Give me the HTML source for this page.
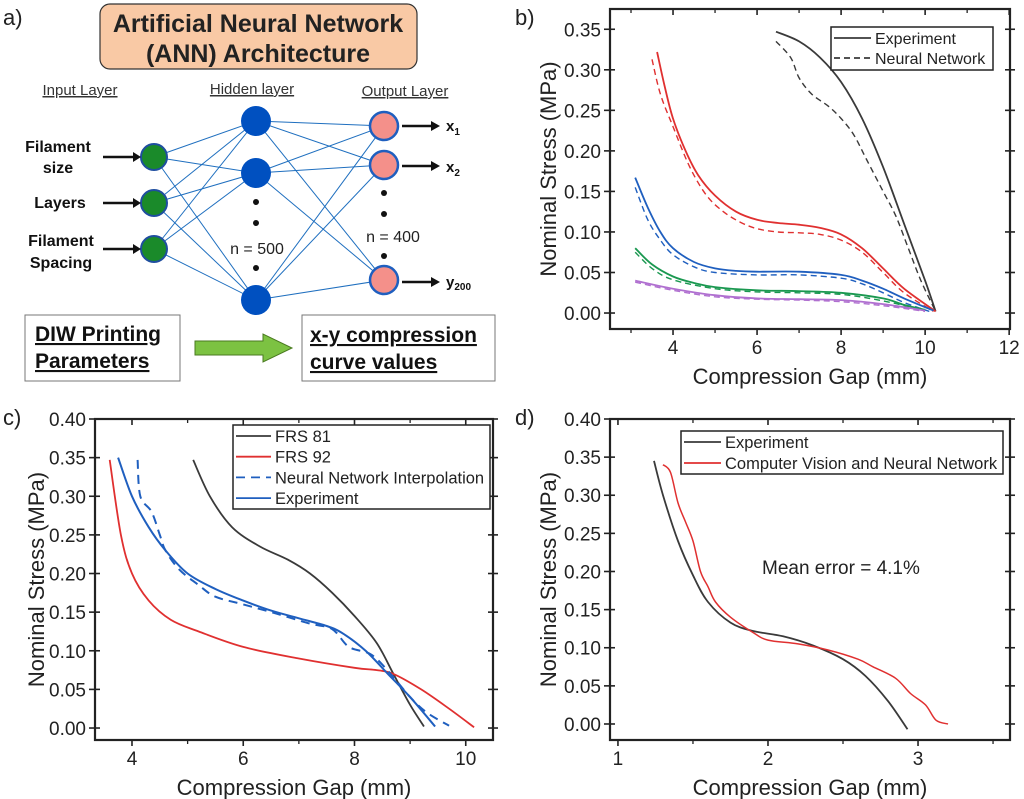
<!DOCTYPE html>
<html><head><meta charset="utf-8"><style>
html,body{margin:0;padding:0;background:#fff;}
svg{display:block;font-family:"Liberation Sans",Arial,sans-serif;}
</style></head><body>
<svg id="fig" width="1024" height="799" viewBox="0 0 1024 799">
<!-- Panel a -->
<g>
<text x="3" y="25" font-size="22" fill="#222">a)</text>
<rect x="100" y="4" width="317" height="65" rx="10" fill="#f9c9a5" stroke="#333" stroke-width="1.2"/>
<text x="258" y="32" font-size="25" font-weight="bold" text-anchor="middle" fill="#222">Artificial Neural Network</text>
<text x="258" y="62" font-size="25" font-weight="bold" text-anchor="middle" fill="#222">(ANN) Architecture</text>
<text x="80" y="95" font-size="15" text-anchor="middle" text-decoration="underline" fill="#333">Input Layer</text>
<text x="252" y="94" font-size="15" text-anchor="middle" text-decoration="underline" fill="#333">Hidden layer</text>
<text x="405" y="96" font-size="15" text-anchor="middle" text-decoration="underline" fill="#333">Output Layer</text>
<g id="conns" stroke="#1f6fbf" stroke-width="1"></g>
<g id="nodes"></g>
<g fill="#111">
<circle cx="256" cy="202" r="3"/><circle cx="256" cy="223" r="3"/><circle cx="256" cy="268" r="3"/>
<circle cx="384" cy="193" r="3"/><circle cx="384" cy="214" r="3"/><circle cx="384" cy="256" r="3"/>
</g>
<text x="257" y="254" font-size="16" text-anchor="middle" fill="#222">n = 500</text>
<text x="393" y="242" font-size="16" text-anchor="middle" fill="#222">n = 400</text>
<g font-size="16" font-weight="bold" fill="#111" text-anchor="middle">
<text x="58" y="152">Filament</text>
<text x="58" y="173">size</text>
<text x="60" y="208">Layers</text>
<text x="61" y="246">Filament</text>
<text x="61" y="268">Spacing</text>
</g>
<g stroke="#111" stroke-width="2.5">
<line x1="103" y1="157" x2="134" y2="157"/><line x1="103" y1="203" x2="134" y2="203"/><line x1="103" y1="249" x2="134" y2="249"/>
<line x1="402" y1="126" x2="432" y2="126"/><line x1="402" y1="166" x2="432" y2="166"/><line x1="402" y1="282" x2="432" y2="282"/>
</g>
<g fill="#111">
<polygon points="133,152 141,157 133,162"/><polygon points="133,198 141,203 133,208"/><polygon points="133,244 141,249 133,254"/>
<polygon points="431,121 440,126 431,131"/><polygon points="431,161 440,166 431,171"/><polygon points="431,277 440,282 431,287"/>
</g>
<g font-size="15" font-weight="bold" fill="#111">
<text x="446" y="131">x<tspan font-size="10" dy="4">1</tspan></text>
<text x="446" y="172">x<tspan font-size="10" dy="4">2</tspan></text>
<text x="446" y="287">y<tspan font-size="10" dy="3">200</tspan></text>
</g>
<rect x="25" y="315" width="155" height="66" fill="#fff" stroke="#777" stroke-width="1"/>
<g font-size="21" font-weight="bold" fill="#111" text-decoration="underline">
<text x="35" y="341">DIW Printing</text>
<text x="35" y="368">Parameters</text>
</g>
<polygon points="195,341 263,341 263,334 292,348 263,362 263,355 195,355" fill="#7cc242" stroke="#4a7a20" stroke-width="1"/>
<rect x="302" y="315" width="193" height="66" fill="#fff" stroke="#777" stroke-width="1"/>
<g font-size="21" font-weight="bold" fill="#111" text-decoration="underline">
<text x="310" y="342">x-y compression</text>
<text x="310" y="369">curve values</text>
</g>
</g>
<g id="charts"></g>
</svg>
<script>
// ---------- Panel b data ----------
const bExpBlackX=[6.45,7,7.5,8,8.5,9,9.5,10,10.25];
const bExpBlackY=[0.347,0.335,0.315,0.285,0.24,0.18,0.11,0.04,0.002];
const bNNBlackX=[6.45,6.8,7,7.3,7.7,8,8.3,8.6,9,9.3,9.6,9.9,10.25];
const bNNBlackY=[0.335,0.315,0.29,0.27,0.255,0.24,0.22,0.19,0.15,0.12,0.08,0.04,0.002];
const bExpRedX=[3.62,3.8,4,4.3,4.6,5,5.5,6,6.5,7,7.5,8,8.5,9,9.5,10.25];
const bExpRedY=[0.322,0.28,0.24,0.2,0.17,0.145,0.125,0.115,0.111,0.109,0.105,0.097,0.08,0.055,0.03,0.002];
const bNNRedX=[3.5,3.7,4,4.4,4.8,5.2,5.6,6,6.5,7,7.5,8,8.5,9,9.5,10.2];
const bNNRedY=[0.313,0.27,0.23,0.18,0.145,0.125,0.112,0.104,0.1,0.099,0.097,0.09,0.075,0.05,0.025,0.002];
const bExpBlueX=[3.1,3.4,3.7,4,4.5,5,5.5,6,7,8,8.5,9,9.5,10.2];
const bExpBlueY=[0.167,0.13,0.1,0.08,0.063,0.055,0.052,0.051,0.051,0.047,0.04,0.03,0.018,0.003];
const bNNBlueX=[3.1,3.4,3.7,4,4.5,5,6,7,8,8.5,9,9.5,10.1];
const bNNBlueY=[0.155,0.115,0.09,0.072,0.057,0.05,0.047,0.047,0.043,0.036,0.025,0.013,0.002];
const bExpGreenX=[3.1,3.5,4,4.5,5,6,7,8,9,9.5,10];
const bExpGreenY=[0.08,0.06,0.045,0.037,0.032,0.028,0.027,0.025,0.018,0.01,0.004];
const bNNGreenX=[3.1,3.5,4,5,6,7,8,9,10];
const bNNGreenY=[0.075,0.055,0.041,0.03,0.026,0.025,0.023,0.015,0.003];
const bExpPurpleX=[3.1,4,5,6,7,8,9,10];
const bExpPurpleY=[0.04,0.03,0.022,0.018,0.017,0.016,0.011,0.003];
const bNNPurpleX=[3.1,4,5,6,7,8,9,10];
const bNNPurpleY=[0.038,0.028,0.02,0.017,0.016,0.014,0.009,0.002];
const bXTicks=[4,6,8,10,12];
const bYTicks=[0,0.05,0.1,0.15,0.2,0.25,0.3,0.35];
// ---------- Panel c data ----------
const cFrs81X=[5.1,5.4,5.8,6.3,6.8,7.2,7.6,8,8.4,8.7,9,9.25];
const cFrs81Y=[0.347,0.3,0.26,0.235,0.218,0.2,0.175,0.145,0.11,0.07,0.03,0.002];
const cFrs92X=[3.6,3.8,4,4.3,4.7,5.2,6,7,8,8.4,8.7,9.2,9.7,10.15];
const cFrs92Y=[0.347,0.25,0.2,0.165,0.14,0.125,0.105,0.09,0.078,0.075,0.07,0.05,0.025,0.001];
const cNNX=[4.1,4.15,4.35,4.5,4.6,4.85,5.2,5.5,6,6.6,7.2,7.6,7.9,8.3,8.65,9,9.3,9.7];
const cNNY=[0.347,0.3,0.28,0.25,0.23,0.205,0.185,0.17,0.16,0.148,0.135,0.128,0.105,0.095,0.07,0.04,0.02,0.003];
const cExpX=[3.75,4,4.3,4.6,5,5.5,6,6.5,7,7.5,7.8,8.2,8.6,9,9.45];
const cExpY=[0.35,0.3,0.26,0.23,0.2,0.18,0.165,0.152,0.142,0.132,0.122,0.1,0.07,0.04,0.002];
const cXTicks=[4,6,8,10];
const cYTicks=[0,0.05,0.1,0.15,0.2,0.25,0.3,0.35,0.4];
// ---------- Panel d data ----------
const dExpX=[1.24,1.3,1.4,1.5,1.6,1.75,1.9,2.1,2.3,2.5,2.65,2.8,2.93];
const dExpY=[0.345,0.3,0.24,0.195,0.16,0.133,0.122,0.115,0.103,0.085,0.063,0.03,-0.007];
const dCVX=[1.3,1.35,1.4,1.45,1.5,1.55,1.6,1.65,1.75,1.9,2,2.2,2.4,2.6,2.7,2.85,2.95,3.05,3.12,3.2];
const dCVY=[0.34,0.33,0.29,0.265,0.24,0.2,0.18,0.16,0.14,0.12,0.11,0.105,0.097,0.085,0.075,0.06,0.04,0.025,0.005,0];
const dXTicks=[1,2,3];
const dYTicks=[0,0.05,0.1,0.15,0.2,0.25,0.3,0.35,0.4];

const NS='http://www.w3.org/2000/svg';
function mk(tag,attrs,parent){const e=document.createElementNS(NS,tag);for(const k in attrs)e.setAttribute(k,attrs[k]);parent.appendChild(e);return e;}

const conns=document.getElementById('conns'), nodes=document.getElementById('nodes');
const inN=[[154,157],[154,203],[154,249]], hidN=[[256,121],[256,173],[256,300]], outN=[[384,126],[384,165],[384,280]];
inN.forEach(a=>hidN.forEach(b=>{const l=mk('line',{x1:a[0],y1:a[1],x2:b[0],y2:b[1]},conns);

}));
hidN.forEach(a=>outN.forEach(b=>{const l=mk('line',{x1:a[0],y1:a[1],x2:b[0],y2:b[1]},conns);

}));
inN.forEach(p=>{const c=mk('circle',{cx:p[0],cy:p[1],r:13,fill:'#1a8a2a',stroke:'#1f4e9f','stroke-width':2},nodes);

});
hidN.forEach(p=>{const c=mk('circle',{cx:p[0],cy:p[1],r:15,fill:'#0050c0'},nodes);

});
outN.forEach(p=>{const c=mk('circle',{cx:p[0],cy:p[1],r:14,fill:'#f4908a',stroke:'#1f5fbf','stroke-width':2.5},nodes);

});

function smoothPath(pts){
  if(pts.length<3){return 'M'+pts.map(p=>p.join(',')).join('L');}
  let d='M'+pts[0][0]+','+pts[0][1];
  for(let i=0;i<pts.length-1;i++){
    const p0=pts[i-1]||pts[i],p1=pts[i],p2=pts[i+1],p3=pts[i+2]||p2;
    const c1=[p1[0]+(p2[0]-p0[0])/6,p1[1]+(p2[1]-p0[1])/6];
    const c2=[p2[0]-(p3[0]-p1[0])/6,p2[1]-(p3[1]-p1[1])/6];
    d+='C'+c1.join(',')+' '+c2.join(',')+' '+p2.join(',');
  }
  return d;
}

function chart(o){
  const g=mk('g',{},document.getElementById('charts'));
  
  
  const sx=v=>o.L+(v-o.x0)/(o.x1-o.x0)*(o.R-o.L);
  const sy=v=>o.B-(v-o.y0)/(o.y1-o.y0)*(o.B-o.T);
  const lab=mk('text',{x:o.lx,y:o.ly,'font-size':22,fill:'#222'},g);lab.textContent=o.letter;
  
  
  o.series.forEach(s=>{
    const pts=s.x.map((v,i)=>[sx(v).toFixed(1),sy(s.y[i]).toFixed(1)].map(Number));
    const p=mk('path',{d:smoothPath(pts),fill:'none',stroke:s.c,'stroke-width':s.w||1.8,'stroke-dasharray':s.dash||'none'},g);
    
    
  });
  const fr=mk('rect',{x:o.L,y:o.T,width:o.R-o.L,height:o.B-o.T,fill:'none',stroke:'#222','stroke-width':2.2},g);
  
  
  o.xt.forEach(v=>{const x=sx(v);
    mk('line',{x1:x,y1:o.B,x2:x,y2:o.B+6,stroke:'#222','stroke-width':1.6},g);
    mk('line',{x1:x,y1:o.T,x2:x,y2:o.T+6,stroke:'#222','stroke-width':1.6},g);
    const t=mk('text',{x:x,y:o.B+25,'font-size':19,'text-anchor':'middle',fill:'#222'},g);t.textContent=String(v);
    
    
  });
  (o.xm||[]).forEach(v=>{const x=sx(v);
    mk('line',{x1:x,y1:o.B,x2:x,y2:o.B+4,stroke:'#222','stroke-width':1.3},g);
    mk('line',{x1:x,y1:o.T,x2:x,y2:o.T+4,stroke:'#222','stroke-width':1.3},g);});
  o.yt.forEach(v=>{const y=sy(v);
    mk('line',{x1:o.L-6,y1:y,x2:o.L+5,y2:y,stroke:'#222','stroke-width':1.6},g);
    mk('line',{x1:o.R-5,y1:y,x2:o.R+5,y2:y,stroke:'#222','stroke-width':1.6},g);
    const t=mk('text',{x:o.L-9,y:y+7,'font-size':19,'text-anchor':'end',fill:'#222'},g);t.textContent=v.toFixed(2);
    
    
  });
  const xt=mk('text',{x:(o.L+o.R)/2,y:o.B+55,'font-size':22,'text-anchor':'middle',fill:'#222'},g);xt.textContent='Compression Gap (mm)';
  
  
  const ycx=o.ytx, ycy=(o.T+o.B)/2;
  const yt=mk('text',{x:ycx,y:ycy,'font-size':22,'text-anchor':'middle',fill:'#222',transform:'rotate(-90 '+ycx+' '+ycy+')'},g);yt.textContent='Nominal Stress (MPa)';
  
  
  const lg=o.leg;
  const lb=mk('rect',{x:lg.x,y:lg.y,width:lg.w,height:lg.h,fill:'#fff',stroke:'#222','stroke-width':1.5},g);
  
  
  lg.items.forEach((it,i)=>{const y=lg.y+11+i*lg.dy;
    mk('line',{x1:lg.x+3,y1:y,x2:lg.x+lg.ll,y2:y,stroke:it.c,'stroke-width':1.8,'stroke-dasharray':it.dash||'none'},g);
    const t=mk('text',{x:lg.x+lg.ll+4,y:y+6,'font-size':lg.fs,fill:'#222'},g);t.textContent=it.t;
    
    
  });
  return g;
}

const K='#3a3a3a',RD='#e03030',BL='#1f5fbf',GR='#1a9850',PU='#b070d0',DS='6,4';
chart({name:'panel-b-chart',letter:'b)',lx:515,ly:25,L:610,R:1010,T:9,B:329,x0:2.5,x1:12.02,y0:-0.0197,y1:0.375,
  xt:bXTicks,xm:[3,5,7,9,11],yt:bYTicks,ytx:556,
  series:[
   {n:'black-experiment',x:bExpBlackX,y:bExpBlackY,c:K},{n:'black-neural-network',x:bNNBlackX,y:bNNBlackY,c:K,dash:DS,w:1.4},
   {n:'red-experiment',x:bExpRedX,y:bExpRedY,c:RD},{n:'red-neural-network',x:bNNRedX,y:bNNRedY,c:RD,dash:DS,w:1.4},
   {n:'blue-experiment',x:bExpBlueX,y:bExpBlueY,c:BL},{n:'blue-neural-network',x:bNNBlueX,y:bNNBlueY,c:BL,dash:DS,w:1.4},
   {n:'green-experiment',x:bExpGreenX,y:bExpGreenY,c:GR},{n:'green-neural-network',x:bNNGreenX,y:bNNGreenY,c:GR,dash:DS,w:1.4},
   {n:'purple-experiment',x:bExpPurpleX,y:bExpPurpleY,c:PU},{n:'purple-neural-network',x:bNNPurpleX,y:bNNPurpleY,c:PU,dash:DS,w:1.4}],
  leg:{x:831,y:27,w:162,h:43,dy:20,ll:40,fs:16,items:[{t:'Experiment',c:K},{t:'Neural Network',c:K,dash:DS}]}});
chart({name:'panel-c-chart',letter:'c)',lx:3,ly:425,L:95,R:493,T:419,B:740,x0:3.335,x1:10.49,y0:-0.0155,y1:0.4,
  xt:cXTicks,xm:[5,7,9],yt:cYTicks,ytx:44,
  series:[{n:'frs-81',x:cFrs81X,y:cFrs81Y,c:K},{n:'frs-92',x:cFrs92X,y:cFrs92Y,c:RD},
   {n:'neural-network-interpolation',x:cNNX,y:cNNY,c:BL,dash:'9,6',w:2},{n:'experiment',x:cExpX,y:cExpY,c:BL,w:2}],
  leg:{x:233,y:425,w:257,h:84,dy:20.7,ll:38,fs:16.5,items:[{t:'FRS 81',c:K},{t:'FRS 92',c:RD},{t:'Neural Network Interpolation',c:BL,dash:'9,6'},{t:'Experiment',c:BL}]}});
chart({name:'panel-d-chart',letter:'d)',lx:515,ly:425,L:610,R:1010,T:419,B:740,x0:0.947,x1:3.613,y0:-0.021,y1:0.4,
  xt:dXTicks,xm:[1.5,2.5,3.5],yt:dYTicks,ytx:556,
  series:[{n:'experiment',x:dExpX,y:dExpY,c:K},{n:'computer-vision-neural-network',x:dCVX,y:dCVY,c:RD,w:1.5}],
  leg:{x:681,y:431,w:322,h:43,dy:21,ll:40,fs:16.5,items:[{t:'Experiment',c:K},{t:'Computer Vision and Neural Network',c:RD}]}});
const me=mk('text',{x:762,y:574,'font-size':19,fill:'#222'},document.getElementById('charts'));
me.textContent='Mean error = 4.1%';


</script>
</body></html>
